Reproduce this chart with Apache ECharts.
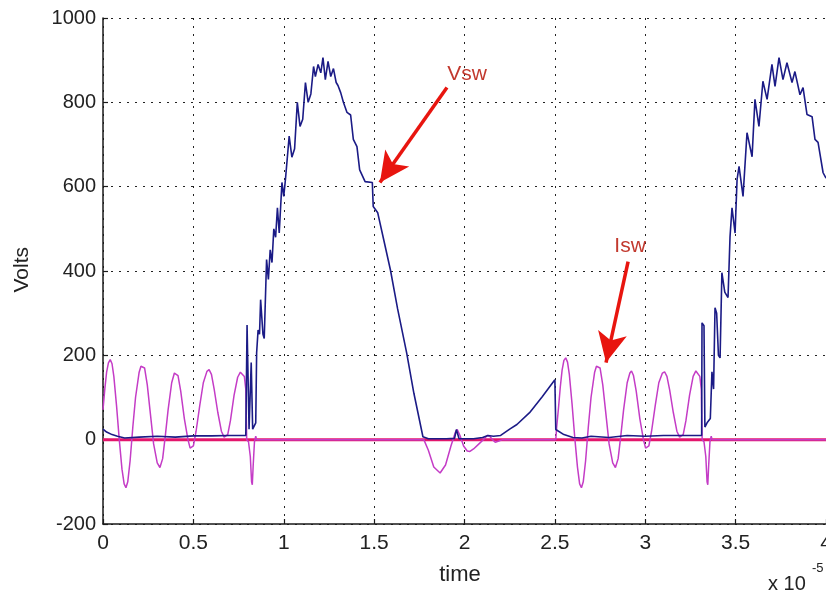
<!DOCTYPE html>
<html><head><meta charset="utf-8">
<script src="https://cdn.jsdelivr.net/npm/echarts@6/dist/echarts.min.js"></script>
<style>html,body{margin:0;padding:0;background:#fff}#c{width:826px;height:596px}</style>
</head><body><div id="c"></div>
<script>
// Tick labels
const xTickLabels = ['0','0.5','1','1.5','2','2.5','3','3.5','4'];
const yTickLabels = ['-200','0','200','400','600','800','1000'];

// Vsw (blue) — time in units of 1e-5 s, volts
const vswTime = [
  0, 0.02, 0.05, 0.08, 0.12, 0.2, 0.3, 0.4, 0.5, 0.6, 0.7, 0.79,
  0.797, 0.805, 0.808, 0.82, 0.828, 0.845, 0.85, 0.858, 0.866, 0.872, 0.885, 0.892,
  0.905, 0.915, 0.925, 0.935, 0.945, 0.955, 0.965, 0.975, 0.99, 1.0, 1.01, 1.03,
  1.045, 1.06, 1.075, 1.09, 1.105, 1.12, 1.135, 1.15, 1.165, 1.175, 1.19, 1.205,
  1.217, 1.23, 1.245, 1.26, 1.275, 1.29, 1.3, 1.315, 1.33, 1.35, 1.37, 1.385,
  1.405, 1.42, 1.45, 1.49, 1.495, 1.52, 1.55, 1.59, 1.63, 1.68, 1.72, 1.77,
  1.8, 1.9, 1.945, 1.955, 1.965, 1.97, 2.05, 2.1, 2.13, 2.16, 2.2, 2.25,
  2.29, 2.36, 2.43, 2.5, 2.505, 2.55, 2.6, 2.65, 2.7, 2.8, 2.9, 3.0,
  3.1, 3.2, 3.3, 3.312, 3.314, 3.325, 3.33, 3.342, 3.36, 3.369, 3.378, 3.386,
  3.395, 3.405, 3.414, 3.424, 3.44, 3.458, 3.469, 3.48, 3.497, 3.508, 3.519, 3.541,
  3.563, 3.591, 3.607, 3.629, 3.651, 3.674, 3.701, 3.718, 3.74, 3.762, 3.784, 3.812,
  3.828, 3.856, 3.873, 3.895, 3.923, 3.939, 3.956, 3.984, 4.0
];
const vswVolts = [
  25, 18, 12, 8, 4, 6, 8, 6, 9, 9, 10, 10,
  272, 268, 25, 183, 25, 40, 206, 260, 250, 332, 250, 240,
  427, 380, 450, 420, 500, 480, 550, 490, 610, 577, 620, 720,
  670, 690, 800, 743, 760, 847, 800, 820, 885, 861, 890, 870,
  906, 854, 897, 861, 880, 847, 840, 823, 800, 776, 770, 712,
  695, 640, 612, 610, 553, 538, 480, 403, 310, 206, 110, 7,
  2, 2, 3, 24, 24, 2, 2, 5, 10, 8, 10, 25,
  36, 64, 102, 142, 24, 12, 5, 4, 8, 5, 10, 8,
  10, 10, 10, 10, 277, 270, 30, 40, 50, 161, 120, 313,
  300, 200, 194, 396, 350, 337, 481, 550, 490, 617, 648, 577,
  728, 671, 807, 743, 850, 807, 890, 838, 906, 854, 894, 847,
  873, 818, 835, 771, 766, 712, 705, 633, 620
];

// Isw (magenta)
const iswTime = [
  0, 0.01, 0.02, 0.03, 0.04, 0.05, 0.06, 0.075, 0.09, 0.105, 0.117, 0.127,
  0.137, 0.15, 0.165, 0.18, 0.2, 0.21, 0.22, 0.23, 0.245, 0.26, 0.28, 0.3,
  0.315, 0.33, 0.345, 0.36, 0.38, 0.395, 0.404, 0.415, 0.43, 0.45, 0.47, 0.482,
  0.49, 0.5, 0.515, 0.535, 0.555, 0.575, 0.587, 0.6, 0.615, 0.635, 0.655, 0.67,
  0.68, 0.69, 0.705, 0.725, 0.745, 0.76, 0.77, 0.782, 0.79, 0.795, 0.805, 0.815,
  0.822, 0.826, 0.831, 0.838, 0.845, 0.85, 1.775, 1.8, 1.83, 1.865, 1.895, 1.925,
  1.95, 1.96, 1.975, 1.995, 2.015, 2.03, 2.05, 2.08, 2.11, 2.125, 2.14, 2.155,
  2.17, 2.19, 2.21, 2.505, 2.51, 2.52, 2.53, 2.54, 2.55, 2.56, 2.57, 2.58,
  2.595, 2.61, 2.625, 2.637, 2.647, 2.657, 2.67, 2.685, 2.7, 2.72, 2.73, 2.74,
  2.75, 2.765, 2.78, 2.8, 2.82, 2.835, 2.85, 2.865, 2.88, 2.9, 2.915, 2.924,
  2.935, 2.95, 2.97, 2.99, 3.002, 3.01, 3.02, 3.035, 3.055, 3.075, 3.095, 3.107,
  3.12, 3.135, 3.155, 3.175, 3.19, 3.2, 3.21, 3.225, 3.245, 3.265, 3.28, 3.29,
  3.302, 3.31, 3.315, 3.325, 3.335, 3.342, 3.346, 3.351, 3.358, 3.365, 3.37, 4.0
];
const iswValues = [
  71, 120, 160, 182, 190, 180, 150, 80, 0, -70, -105, -114,
  -100, -50, 30, 100, 160, 174, 178, 170, 130, 70, -10, -55,
  -66, -45, 10, 70, 135, 158, 161, 152, 115, 50, 0, -20,
  -24, -15, 20, 80, 135, 162, 166, 155, 120, 65, 20, 6,
  5, 12, 45, 105, 148, 160, 161, 150, 120, 0, -5, -40,
  -100, -107, -60, -5, 8, 0, 0, -25, -65, -79, -60, -15,
  18, 24, 10, -15, -27, -28, -22, -10, 2, 10, 8, 0,
  -6, -3, 0, 0, 30, 75, 125, 165, 188, 194, 184, 155,
  85, 5, -65, -105, -114, -100, -50, 30, 100, 160, 174, 178,
  170, 130, 70, -10, -55, -66, -45, 10, 70, 135, 158, 163,
  152, 115, 50, 0, -20, -24, -15, 20, 80, 135, 158, 161,
  150, 118, 65, 20, 6, 5, 12, 45, 105, 150, 163, 166,
  150, 120, 0, -5, -40, -100, -107, -60, -5, 8, 0, 0
];

// Zero reference line
const zeroTime = [0, 4];
const zeroValues = [0, 0];

// Annotations (data units)
const vswArrow = [[1.903, 835], [1.532, 610]];
const iswArrow = [[2.905, 422], [2.783, 183]];
const vswLabelAt = [2.014, 866];
const iswLabelAt = [2.916, 458];

const zip = (a, b) => a.map((t, i) => [t, b[i]]);
const FONT = "'Liberation Sans', Arial, sans-serif";

const chart = echarts.init(document.getElementById('c'), null, {renderer: 'canvas'});
chart.setOption({
  animation: false,
  backgroundColor: '#ffffff',
  grid: {left: 103, right: 0, top: 18, bottom: 72, containLabel: false, outerBoundsMode: 'none'},
  xAxis: {
    type: 'value', min: 0, max: 4, interval: 0.5,
    axisLine: {show: true, onZero: false, lineStyle: {color: '#1a1a1a', width: 1.5}},
    axisTick: {show: true, inside: true, length: 5, lineStyle: {color: '#1a1a1a', width: 1.2}},
    axisLabel: {color: '#222', fontSize: 21, fontFamily: FONT, margin: 9,
      formatter: (v) => xTickLabels[Math.round(v / 0.5)] ?? ''},
    splitLine: {show: true, lineStyle: {color: '#222', width: 1, type: [2, 6]}}
  },
  yAxis: {
    type: 'value', min: -200, max: 1000, interval: 200,
    axisLine: {show: true, onZero: false, lineStyle: {color: '#1a1a1a', width: 1.5}},
    axisTick: {show: true, inside: true, length: 5, lineStyle: {color: '#1a1a1a', width: 1.2}},
    axisLabel: {color: '#222', fontSize: 20, fontFamily: FONT, margin: 7,
      formatter: (v) => yTickLabels[Math.round((v + 200) / 200)] ?? ''},
    splitLine: {show: true, lineStyle: {color: '#222', width: 1, type: [2, 6]}}
  },
  graphic: [
    {type: 'text', left: 12, top: 247, style: {text: 'Volts', fill: '#222', font: '21px ' + FONT}, rotation: Math.PI / 2, originX: 0, originY: 0},
    {type: 'text', x: 460, y: 575, style: {text: 'time', fill: '#222', font: '22px ' + FONT, align: 'center', verticalAlign: 'middle'}},
    {type: 'text', x: 768, y: 584, style: {text: 'x 10', fill: '#222', font: '20px ' + FONT, verticalAlign: 'middle'}},
    {type: 'text', x: 812, y: 568, style: {text: '-5', fill: '#222', font: '13px ' + FONT, verticalAlign: 'middle'}}
  ],
  series: [
    {
      name: 'zero', type: 'line', data: zip(zeroTime, zeroValues), showSymbol: false, silent: true,
      lineStyle: {color: '#e3166c', width: 3}, z: 2
    },
    {
      name: 'Isw', type: 'line', data: zip(iswTime, iswValues), showSymbol: false, silent: true,
      lineStyle: {color: '#c43cc6', width: 1.5}, z: 3
    },
    {
      name: 'Vsw', type: 'line', data: zip(vswTime, vswVolts), showSymbol: false, silent: true,
      lineStyle: {color: '#1b1b86', width: 1.6}, z: 4,
      markLine: {
        silent: true, animation: false,
        lineStyle: {color: '#e8150f', width: 3.5, type: 'solid'},
        label: {show: false},
        data: [
          [{coord: vswArrow[0], symbol: 'none'}, {coord: vswArrow[1], symbol: 'arrow', symbolSize: [22, 30]}],
          [{coord: iswArrow[0], symbol: 'none'}, {coord: iswArrow[1], symbol: 'arrow', symbolSize: [22, 30]}]
        ]
      },
      markPoint: {
        silent: true, animation: false, symbol: 'circle', symbolSize: 0,
        label: {show: true, position: 'inside', color: '#c2392e', fontSize: 21, fontFamily: FONT},
        data: [
          {coord: vswLabelAt, label: {formatter: 'Vsw'}},
          {coord: iswLabelAt, label: {formatter: 'Isw'}}
        ]
      }
    }
  ]
});
</script>
</body></html>
